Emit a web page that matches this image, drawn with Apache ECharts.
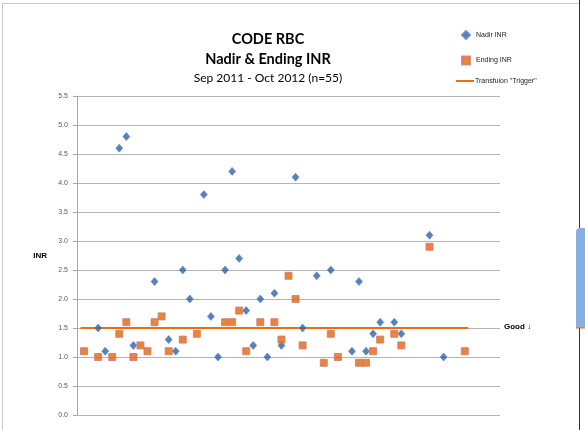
<!DOCTYPE html>
<html>
<head>
<meta charset="utf-8">
<script src="https://cdn.jsdelivr.net/npm/echarts@6/dist/echarts.min.js"></script>
<style>
  html, body { margin: 0; padding: 0; background: #fff; }
  #chart { width: 585px; height: 430px; }
</style>
</head>
<body>
<div id="chart"></div>
<script>
// Patient sequence numbers along the horizontal axis
const patientNo = Array.from({ length: 55 }, (_, i) => i + 1);

// Lowest INR reached per patient (null = no value shown)
const nadirINR = [
  null, null, 1.5, 1.1, null, 4.6, 4.8, 1.2, null, null,
  2.3, null, 1.3, 1.1, 2.5, 2.0, null, 3.8, 1.7, 1.0,
  2.5, 4.2, 2.7, 1.8, 1.2, 2.0, 1.0, 2.1, 1.2, null,
  4.1, 1.5, null, 2.4, null, 2.5, null, null, 1.1, 2.3,
  1.1, 1.4, 1.6, null, 1.6, 1.4, null, null, null, 3.1,
  null, 1.0, null, null, null
];

// INR at the end of the episode
const endingINR = [
  1.1, null, 1.0, null, 1.0, 1.4, 1.6, 1.0, 1.2, 1.1,
  1.6, 1.7, 1.1, null, 1.3, null, 1.4, null, null, null,
  1.6, 1.6, 1.8, 1.1, null, 1.6, null, 1.6, 1.3, 2.4,
  2.0, 1.2, null, null, 0.9, 1.4, 1.0, null, null, 0.9,
  0.9, 1.1, 1.3, null, 1.4, 1.2, null, null, null, 2.9,
  null, null, null, null, 1.1
];

// Transfusion trigger threshold and the span it is drawn over
const triggerINR = 1.5;
const triggerSpan = [0.5, 55.5];

// y-axis tick values
const yTicks = [0.0, 0.5, 1.0, 1.5, 2.0, 2.5, 3.0, 3.5, 4.0, 4.5, 5.0, 5.5];

const pairs = (ys) => patientNo.map((x, i) => [x, ys[i]]).filter(p => p[1] !== null);

const legendText = { fontFamily: 'Liberation Sans', fontSize: 7, color: '#222', lineHeight: 8 };

const chart = echarts.init(document.getElementById('chart'), null, { renderer: 'canvas' });

chart.setOption({
  backgroundColor: '#ffffff',
  animation: false,
  title: [
    {
      text: 'CODE RBC',
      left: 263, top: 27, textAlign: 'center',
      textStyle: { fontFamily: 'Lato', fontWeight: 'bold', fontSize: 14.5, color: '#000' }
    },
    {
      text: 'Nadir & Ending INR',
      left: 263, top: 47, textAlign: 'center',
      textStyle: { fontFamily: 'Lato', fontWeight: 'bold', fontSize: 14.5, color: '#000' }
    },
    {
      text: 'Sep 2011 - Oct 2012 (n=55)',
      left: 263, top: 67, textAlign: 'center',
      textStyle: { fontFamily: 'Lato', fontWeight: 'normal', fontSize: 12, color: '#000' }
    }
  ],
  legend: [
    {
      orient: 'vertical',
      left: 456, top: 25,
      itemWidth: 8, itemHeight: 8, itemGap: 15.5,
      textStyle: Object.assign({ padding: [0, 0, 0, 1] }, legendText),
      data: [
        { name: 'Nadir INR', icon: 'diamond' },
        { name: 'Ending INR', icon: 'rect' }
      ]
    },
    {
      orient: 'vertical',
      left: 451, top: 72,
      itemWidth: 18, itemHeight: 2,
      textStyle: Object.assign({ padding: [0, 0, 0, -4] }, legendText),
      data: [{ name: 'Transfuion "Trigger"', icon: 'rect' }]
    }
  ],
  grid: { left: 77, right: 85, top: 96, bottom: 15, containLabel: false },
  xAxis: {
    type: 'value', min: 0, max: 60,
    axisLine: { show: false }, axisTick: { show: false },
    axisLabel: { show: false }, splitLine: { show: false }
  },
  yAxis: {
    type: 'value', min: yTicks[0], max: yTicks[yTicks.length - 1], interval: 0.5,
    name: 'INR', nameLocation: 'middle', nameRotate: 0, nameGap: 30,
    nameTextStyle: { fontFamily: 'Liberation Sans', fontWeight: 'bold', fontSize: 8, color: '#000' },
    axisLine: { show: true, lineStyle: { color: '#a6a6a6', width: 1 } },
    axisTick: { show: true, length: 4, lineStyle: { color: '#a6a6a6' } },
    axisLabel: {
      margin: 9, fontFamily: 'Liberation Sans', fontSize: 7, color: '#595959',
      formatter: v => v.toFixed(1)
    },
    splitLine: { show: true, lineStyle: { color: '#b5b5b5', width: 1 } }
  },
  series: [
    {
      name: 'Transfuion "Trigger"',
      type: 'line',
      data: triggerSpan.map(x => [x, triggerINR]),
      symbol: 'none', showSymbol: false,
      lineStyle: { color: '#ee6d10', width: 2 },
      itemStyle: { color: '#ee6d10' },
      z: 2
    },
    {
      name: 'Nadir INR',
      type: 'scatter',
      data: pairs(nadirINR),
      symbol: 'diamond', symbolSize: [7, 8],
      itemStyle: { color: '#2f62a8', borderColor: '#5a86c2', borderWidth: 0.8 },
      z: 3
    },
    {
      name: 'Ending INR',
      type: 'scatter',
      data: pairs(endingINR),
      symbol: 'rect', symbolSize: 7,
      itemStyle: { color: '#e4660a', borderColor: '#d0776f', borderWidth: 1 },
      z: 4
    }
  ],
  graphic: [
    // page frame
    { type: 'line', shape: { x1: 2.5, y1: 3, x2: 2.5, y2: 430 }, style: { stroke: '#c9c9c9', lineWidth: 1 } },
    { type: 'line', shape: { x1: 2, y1: 3.5, x2: 579, y2: 3.5 }, style: { stroke: '#c9c9c9', lineWidth: 1 } },
    { type: 'line', shape: { x1: 579.5, y1: 0, x2: 579.5, y2: 430 }, style: { stroke: '#333', lineWidth: 1 } },
    // neighbouring shape peeking in at the right edge
    { type: 'rect', shape: { x: 576, y: 228, width: 9, height: 100, r: [4, 0, 0, 0] },
      style: { fill: '#86b0e0' }, z: 10 },
    { type: 'line', shape: { x1: 576, y1: 328, x2: 585, y2: 328 }, style: { stroke: '#ee6d10', lineWidth: 1 }, z: 11 },
    // annotation beside the trigger line
    { type: 'text', left: 504, top: 323,
      style: { text: 'Good \u2193', font: 'bold 8px "Liberation Sans"', fill: '#000' } }
  ]
});
</script>
</body>
</html>
